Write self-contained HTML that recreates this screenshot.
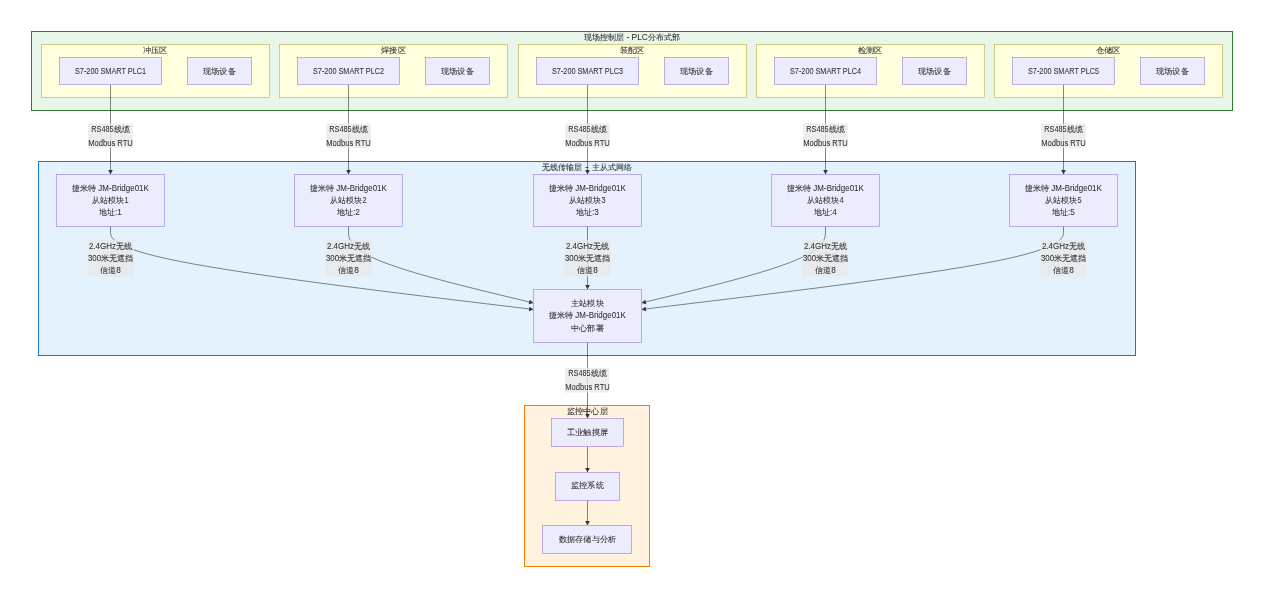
<!DOCTYPE html>
<html><head><meta charset="utf-8"><title>diagram</title>
<style>
html,body{margin:0;padding:0;background:#ffffff;width:1264px;height:598px;overflow:hidden;}
svg{display:block;will-change:transform;}
text{font-family:"Liberation Sans",sans-serif;font-size:8.13px;fill:#333333;text-anchor:middle;stroke:#333333;stroke-width:0.07px;}
tspan.l,text.l{font-size:8.8px;}
</style></head><body>
<svg width="1264" height="598" viewBox="0 0 1264 598">
<rect x="31.50" y="31.50" width="1201.00" height="79.00" fill="#e8f5e9" stroke="#2e7d32" stroke-width="1.0"/>
<text x="632.00" y="39.86">现场控制层<tspan class="l" textLength="23.8" lengthAdjust="spacingAndGlyphs"> - PLC</tspan>分布式部</text>
<rect x="41.50" y="44.50" width="228.00" height="53.00" fill="#ffffde" stroke="#aaaa33" stroke-width="0.55"/>
<text x="155.30" y="52.66" textLength="24.60" lengthAdjust="spacingAndGlyphs">冲压区</text>
<rect x="279.50" y="44.50" width="228.00" height="53.00" fill="#ffffde" stroke="#aaaa33" stroke-width="0.55"/>
<text x="393.55" y="52.66" textLength="24.60" lengthAdjust="spacingAndGlyphs">焊接区</text>
<rect x="518.50" y="44.50" width="228.00" height="53.00" fill="#ffffde" stroke="#aaaa33" stroke-width="0.55"/>
<text x="631.80" y="52.66" textLength="24.60" lengthAdjust="spacingAndGlyphs">装配区</text>
<rect x="756.50" y="44.50" width="228.00" height="53.00" fill="#ffffde" stroke="#aaaa33" stroke-width="0.55"/>
<text x="870.05" y="52.66" textLength="24.60" lengthAdjust="spacingAndGlyphs">检测区</text>
<rect x="994.50" y="44.50" width="228.00" height="53.00" fill="#ffffde" stroke="#aaaa33" stroke-width="0.55"/>
<text x="1108.30" y="52.66" textLength="24.60" lengthAdjust="spacingAndGlyphs">仓储区</text>
<rect x="38.50" y="161.50" width="1097.00" height="194.00" fill="#e3f2fd" stroke="#1976d2" stroke-width="1.0"/>
<text x="587.10" y="169.76">无线传输层<tspan class="l" textLength="9.3" lengthAdjust="spacingAndGlyphs"> - </tspan>主从式网络</text>
<rect x="524.50" y="405.50" width="125.00" height="161.00" fill="#fff3e0" stroke="#f57c00" stroke-width="1.0"/>
<text x="587.20" y="414.06" textLength="41.20" lengthAdjust="spacingAndGlyphs">监控中心层</text>
<path d="M110.50,84.5L110.50,171.0" fill="none" stroke="#333333" stroke-width="0.6"/>
<path d="M110.50,174.40L108.20,170.00L112.80,170.00Z" fill="#333333"/>
<path d="M110.50,226.50L110.50,231.82C110.50,237.13,110.50,247.77,180.50,261.54C250.51,275.31,390.51,292.21,460.52,300.67L530.52,309.12" fill="none" stroke="#333333" stroke-width="0.6"/>
<path d="M533.50,309.48L528.86,311.24L529.41,306.67Z" fill="#333333"/>
<path d="M348.50,84.5L348.50,171.0" fill="none" stroke="#333333" stroke-width="0.6"/>
<path d="M348.50,174.40L346.20,170.00L350.80,170.00Z" fill="#333333"/>
<path d="M348.50,226.50L348.50,231.82C348.50,237.13,348.50,247.77,378.85,260.40C409.19,273.03,469.89,287.66,500.24,294.97L530.58,302.28" fill="none" stroke="#333333" stroke-width="0.6"/>
<path d="M533.50,302.99L528.68,304.19L529.76,299.72Z" fill="#333333"/>
<path d="M587.50,84.5L587.50,171.0" fill="none" stroke="#333333" stroke-width="0.6"/>
<path d="M587.50,174.40L585.20,170.00L589.80,170.00Z" fill="#333333"/>
<path d="M587.50,226.5L587.50,286.0" fill="none" stroke="#333333" stroke-width="0.6"/>
<path d="M587.50,289.40L585.20,285.00L589.80,285.00Z" fill="#333333"/>
<path d="M825.50,84.5L825.50,171.0" fill="none" stroke="#333333" stroke-width="0.6"/>
<path d="M825.50,174.40L823.20,170.00L827.80,170.00Z" fill="#333333"/>
<path d="M825.50,226.50L825.50,231.82C825.50,237.13,825.50,247.77,795.32,260.39C765.14,273.01,704.78,287.62,674.60,294.92L644.42,302.23" fill="none" stroke="#333333" stroke-width="0.6"/>
<path d="M641.50,302.93L645.24,299.66L646.32,304.13Z" fill="#333333"/>
<path d="M1063.50,84.5L1063.50,171.0" fill="none" stroke="#333333" stroke-width="0.6"/>
<path d="M1063.50,174.40L1061.20,170.00L1065.80,170.00Z" fill="#333333"/>
<path d="M1063.50,226.50L1063.50,231.82C1063.50,237.13,1063.50,247.77,993.66,261.53C923.83,275.30,784.15,292.20,714.32,300.65L644.48,309.11" fill="none" stroke="#333333" stroke-width="0.6"/>
<path d="M641.50,309.47L645.59,306.65L646.14,311.22Z" fill="#333333"/>
<path d="M587.5,342.5L587.5,415.0" fill="none" stroke="#333333" stroke-width="0.6"/>
<path d="M587.50,418.40L585.20,414.00L589.80,414.00Z" fill="#333333"/>
<path d="M587.5,446.5L587.5,469.0" fill="none" stroke="#333333" stroke-width="0.6"/>
<path d="M587.50,472.40L585.20,468.00L589.80,468.00Z" fill="#333333"/>
<path d="M587.5,500.5L587.5,522.0" fill="none" stroke="#333333" stroke-width="0.6"/>
<path d="M587.50,525.40L585.20,521.00L589.80,521.00Z" fill="#333333"/>
<rect x="88.20" y="123.60" width="44.60" height="24.20" fill="rgba(232,232,232,0.8)" stroke="none" stroke-width="0"/>
<text x="110.50" y="132.06"><tspan class="l" textLength="22.3" lengthAdjust="spacingAndGlyphs">RS485</tspan>线缆</text>
<text class="l" x="110.50" y="145.66" textLength="44.50" lengthAdjust="spacingAndGlyphs">Modbus RTU</text>
<rect x="87.50" y="240.10" width="46.00" height="36.50" fill="rgba(232,232,232,0.8)" stroke="none" stroke-width="0"/>
<text x="110.50" y="248.66"><tspan class="l" textLength="27.2" lengthAdjust="spacingAndGlyphs">2.4GHz</tspan>无线</text>
<text x="110.50" y="260.76"><tspan class="l" textLength="13.2" lengthAdjust="spacingAndGlyphs">300</tspan>米无遮挡</text>
<text x="110.50" y="272.66">信道<tspan class="l" textLength="4.6" lengthAdjust="spacingAndGlyphs">8</tspan></text>
<rect x="326.20" y="123.60" width="44.60" height="24.20" fill="rgba(232,232,232,0.8)" stroke="none" stroke-width="0"/>
<text x="348.50" y="132.06"><tspan class="l" textLength="22.3" lengthAdjust="spacingAndGlyphs">RS485</tspan>线缆</text>
<text class="l" x="348.50" y="145.66" textLength="44.50" lengthAdjust="spacingAndGlyphs">Modbus RTU</text>
<rect x="325.50" y="240.10" width="46.00" height="36.50" fill="rgba(232,232,232,0.8)" stroke="none" stroke-width="0"/>
<text x="348.50" y="248.66"><tspan class="l" textLength="27.2" lengthAdjust="spacingAndGlyphs">2.4GHz</tspan>无线</text>
<text x="348.50" y="260.76"><tspan class="l" textLength="13.2" lengthAdjust="spacingAndGlyphs">300</tspan>米无遮挡</text>
<text x="348.50" y="272.66">信道<tspan class="l" textLength="4.6" lengthAdjust="spacingAndGlyphs">8</tspan></text>
<rect x="565.20" y="123.60" width="44.60" height="24.20" fill="rgba(232,232,232,0.8)" stroke="none" stroke-width="0"/>
<text x="587.50" y="132.06"><tspan class="l" textLength="22.3" lengthAdjust="spacingAndGlyphs">RS485</tspan>线缆</text>
<text class="l" x="587.50" y="145.66" textLength="44.50" lengthAdjust="spacingAndGlyphs">Modbus RTU</text>
<rect x="564.50" y="240.10" width="46.00" height="36.50" fill="rgba(232,232,232,0.8)" stroke="none" stroke-width="0"/>
<text x="587.50" y="248.66"><tspan class="l" textLength="27.2" lengthAdjust="spacingAndGlyphs">2.4GHz</tspan>无线</text>
<text x="587.50" y="260.76"><tspan class="l" textLength="13.2" lengthAdjust="spacingAndGlyphs">300</tspan>米无遮挡</text>
<text x="587.50" y="272.66">信道<tspan class="l" textLength="4.6" lengthAdjust="spacingAndGlyphs">8</tspan></text>
<rect x="803.20" y="123.60" width="44.60" height="24.20" fill="rgba(232,232,232,0.8)" stroke="none" stroke-width="0"/>
<text x="825.50" y="132.06"><tspan class="l" textLength="22.3" lengthAdjust="spacingAndGlyphs">RS485</tspan>线缆</text>
<text class="l" x="825.50" y="145.66" textLength="44.50" lengthAdjust="spacingAndGlyphs">Modbus RTU</text>
<rect x="802.50" y="240.10" width="46.00" height="36.50" fill="rgba(232,232,232,0.8)" stroke="none" stroke-width="0"/>
<text x="825.50" y="248.66"><tspan class="l" textLength="27.2" lengthAdjust="spacingAndGlyphs">2.4GHz</tspan>无线</text>
<text x="825.50" y="260.76"><tspan class="l" textLength="13.2" lengthAdjust="spacingAndGlyphs">300</tspan>米无遮挡</text>
<text x="825.50" y="272.66">信道<tspan class="l" textLength="4.6" lengthAdjust="spacingAndGlyphs">8</tspan></text>
<rect x="1041.20" y="123.60" width="44.60" height="24.20" fill="rgba(232,232,232,0.8)" stroke="none" stroke-width="0"/>
<text x="1063.50" y="132.06"><tspan class="l" textLength="22.3" lengthAdjust="spacingAndGlyphs">RS485</tspan>线缆</text>
<text class="l" x="1063.50" y="145.66" textLength="44.50" lengthAdjust="spacingAndGlyphs">Modbus RTU</text>
<rect x="1040.50" y="240.10" width="46.00" height="36.50" fill="rgba(232,232,232,0.8)" stroke="none" stroke-width="0"/>
<text x="1063.50" y="248.66"><tspan class="l" textLength="27.2" lengthAdjust="spacingAndGlyphs">2.4GHz</tspan>无线</text>
<text x="1063.50" y="260.76"><tspan class="l" textLength="13.2" lengthAdjust="spacingAndGlyphs">300</tspan>米无遮挡</text>
<text x="1063.50" y="272.66">信道<tspan class="l" textLength="4.6" lengthAdjust="spacingAndGlyphs">8</tspan></text>
<rect x="565.10" y="368.00" width="43.90" height="24.60" fill="rgba(232,232,232,0.8)" stroke="none" stroke-width="0"/>
<text x="587.50" y="376.06"><tspan class="l" textLength="22.3" lengthAdjust="spacingAndGlyphs">RS485</tspan>线缆</text>
<text class="l" x="587.50" y="389.96" textLength="44.50" lengthAdjust="spacingAndGlyphs">Modbus RTU</text>
<rect x="59.50" y="57.50" width="102.00" height="27.00" fill="#ececff" stroke="#9370db" stroke-width="0.55"/>
<text class="l" x="110.50" y="74.06" textLength="71.00" lengthAdjust="spacingAndGlyphs">S7-200 SMART PLC1</text>
<rect x="187.50" y="57.50" width="64.00" height="27.00" fill="#ececff" stroke="#9370db" stroke-width="0.55"/>
<text x="219.50" y="73.96" textLength="32.80" lengthAdjust="spacingAndGlyphs">现场设备</text>
<rect x="56.50" y="174.50" width="108.00" height="52.00" fill="#ececff" stroke="#9370db" stroke-width="0.55"/>
<text x="110.50" y="190.66">捷米特<tspan class="l" textLength="52.7" lengthAdjust="spacingAndGlyphs"> JM-Bridge01K</tspan></text>
<text x="110.50" y="202.66">从站模块<tspan class="l" textLength="4.1" lengthAdjust="spacingAndGlyphs">1</tspan></text>
<text x="110.50" y="214.66">地址<tspan class="l" textLength="6.8" lengthAdjust="spacingAndGlyphs">:1</tspan></text>
<rect x="297.50" y="57.50" width="102.00" height="27.00" fill="#ececff" stroke="#9370db" stroke-width="0.55"/>
<text class="l" x="348.50" y="74.06" textLength="71.00" lengthAdjust="spacingAndGlyphs">S7-200 SMART PLC2</text>
<rect x="425.50" y="57.50" width="64.00" height="27.00" fill="#ececff" stroke="#9370db" stroke-width="0.55"/>
<text x="457.50" y="73.96" textLength="32.80" lengthAdjust="spacingAndGlyphs">现场设备</text>
<rect x="294.50" y="174.50" width="108.00" height="52.00" fill="#ececff" stroke="#9370db" stroke-width="0.55"/>
<text x="348.50" y="190.66">捷米特<tspan class="l" textLength="52.7" lengthAdjust="spacingAndGlyphs"> JM-Bridge01K</tspan></text>
<text x="348.50" y="202.66">从站模块<tspan class="l" textLength="4.1" lengthAdjust="spacingAndGlyphs">2</tspan></text>
<text x="348.50" y="214.66">地址<tspan class="l" textLength="6.8" lengthAdjust="spacingAndGlyphs">:2</tspan></text>
<rect x="536.50" y="57.50" width="102.00" height="27.00" fill="#ececff" stroke="#9370db" stroke-width="0.55"/>
<text class="l" x="587.50" y="74.06" textLength="71.00" lengthAdjust="spacingAndGlyphs">S7-200 SMART PLC3</text>
<rect x="664.50" y="57.50" width="64.00" height="27.00" fill="#ececff" stroke="#9370db" stroke-width="0.55"/>
<text x="696.50" y="73.96" textLength="32.80" lengthAdjust="spacingAndGlyphs">现场设备</text>
<rect x="533.50" y="174.50" width="108.00" height="52.00" fill="#ececff" stroke="#9370db" stroke-width="0.55"/>
<text x="587.50" y="190.66">捷米特<tspan class="l" textLength="52.7" lengthAdjust="spacingAndGlyphs"> JM-Bridge01K</tspan></text>
<text x="587.50" y="202.66">从站模块<tspan class="l" textLength="4.1" lengthAdjust="spacingAndGlyphs">3</tspan></text>
<text x="587.50" y="214.66">地址<tspan class="l" textLength="6.8" lengthAdjust="spacingAndGlyphs">:3</tspan></text>
<rect x="774.50" y="57.50" width="102.00" height="27.00" fill="#ececff" stroke="#9370db" stroke-width="0.55"/>
<text class="l" x="825.50" y="74.06" textLength="71.00" lengthAdjust="spacingAndGlyphs">S7-200 SMART PLC4</text>
<rect x="902.50" y="57.50" width="64.00" height="27.00" fill="#ececff" stroke="#9370db" stroke-width="0.55"/>
<text x="934.50" y="73.96" textLength="32.80" lengthAdjust="spacingAndGlyphs">现场设备</text>
<rect x="771.50" y="174.50" width="108.00" height="52.00" fill="#ececff" stroke="#9370db" stroke-width="0.55"/>
<text x="825.50" y="190.66">捷米特<tspan class="l" textLength="52.7" lengthAdjust="spacingAndGlyphs"> JM-Bridge01K</tspan></text>
<text x="825.50" y="202.66">从站模块<tspan class="l" textLength="4.1" lengthAdjust="spacingAndGlyphs">4</tspan></text>
<text x="825.50" y="214.66">地址<tspan class="l" textLength="6.8" lengthAdjust="spacingAndGlyphs">:4</tspan></text>
<rect x="1012.50" y="57.50" width="102.00" height="27.00" fill="#ececff" stroke="#9370db" stroke-width="0.55"/>
<text class="l" x="1063.50" y="74.06" textLength="71.00" lengthAdjust="spacingAndGlyphs">S7-200 SMART PLC5</text>
<rect x="1140.50" y="57.50" width="64.00" height="27.00" fill="#ececff" stroke="#9370db" stroke-width="0.55"/>
<text x="1172.50" y="73.96" textLength="32.80" lengthAdjust="spacingAndGlyphs">现场设备</text>
<rect x="1009.50" y="174.50" width="108.00" height="52.00" fill="#ececff" stroke="#9370db" stroke-width="0.55"/>
<text x="1063.50" y="190.66">捷米特<tspan class="l" textLength="52.7" lengthAdjust="spacingAndGlyphs"> JM-Bridge01K</tspan></text>
<text x="1063.50" y="202.66">从站模块<tspan class="l" textLength="4.1" lengthAdjust="spacingAndGlyphs">5</tspan></text>
<text x="1063.50" y="214.66">地址<tspan class="l" textLength="6.8" lengthAdjust="spacingAndGlyphs">:5</tspan></text>
<rect x="533.50" y="289.50" width="108.00" height="53.00" fill="#ececff" stroke="#9370db" stroke-width="0.55"/>
<text x="587.50" y="306.41" textLength="32.80" lengthAdjust="spacingAndGlyphs">主站模块</text>
<text x="587.50" y="318.26">捷米特<tspan class="l" textLength="52.7" lengthAdjust="spacingAndGlyphs"> JM-Bridge01K</tspan></text>
<text x="587.50" y="330.66" textLength="32.80" lengthAdjust="spacingAndGlyphs">中心部署</text>
<rect x="551.50" y="418.50" width="72.00" height="28.00" fill="#ececff" stroke="#9370db" stroke-width="0.55"/>
<text x="587.50" y="434.76" textLength="41.20" lengthAdjust="spacingAndGlyphs">工业触摸屏</text>
<rect x="555.50" y="472.50" width="64.00" height="28.00" fill="#ececff" stroke="#9370db" stroke-width="0.55"/>
<text x="587.50" y="488.36" textLength="32.80" lengthAdjust="spacingAndGlyphs">监控系统</text>
<rect x="542.50" y="525.50" width="89.00" height="28.00" fill="#ececff" stroke="#9370db" stroke-width="0.55"/>
<text x="587.50" y="541.71" textLength="57.20" lengthAdjust="spacingAndGlyphs">数据存储与分析</text>
</svg>
</body></html>
